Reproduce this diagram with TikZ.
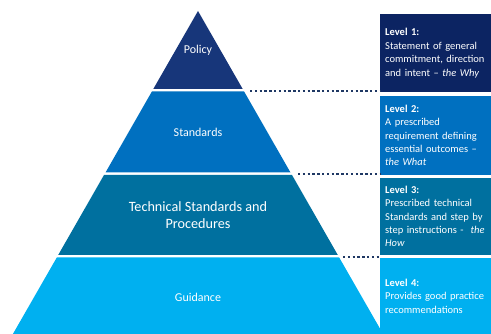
\documentclass[tikz,border=0pt]{standalone}
\usepackage{fontspec}
\setmainfont{Carlito}
\usetikzlibrary{positioning}

\definecolor{policyblue}{HTML}{17367A}
\definecolor{levelnavy}{HTML}{0C2462}
\definecolor{standardblue}{HTML}{0070C0}
\definecolor{technicalblue}{HTML}{00709F}
\definecolor{guidanceblue}{HTML}{00B0F0}
\definecolor{dotnavy}{HTML}{1F3864}

\tikzset{
  tierlabel/.style={text=white, font=\fontsize{12}{17}\selectfont, align=center},
  levelbox/.style={anchor=north west, text=white, font=\fontsize{10.5}{13.4}\selectfont,
    text width=120pt, inner xsep=5pt, inner ysep=0pt, align=left},
  leader/.style={dotnavy, line width=2pt, dash pattern=on 2.4pt off 2.4pt},
}

\begin{document}
\begin{tikzpicture}[x=1pt,y=-1pt]
    \useasboundingbox (0,0) rectangle (491,334);
    % pyramid tiers
    \fill[policyblue] (198,11)--(242.7,89)--(153.3,89)--cycle;
    \fill[standardblue] (151.9,91.5)--(244.1,91.5)--(290.5,172.5)--(105.5,172.5)--cycle;
    \fill[technicalblue] (104,175)--(292,175)--(337.8,255)--(58.2,255)--cycle;
    \fill[guidanceblue] (56.8,257.5)--(339.2,257.5)--(383.1,334)--(12.9,334)--cycle;
    \node[tierlabel] (policy) at (198,50) {Policy};
    \node[tierlabel] (standards) at (198,132) {Standards};
    \node[tierlabel, font=\fontsize{14.2}{17}\selectfont] (technical) at (198,215)
        {Technical Standards and\\Procedures};
    \node[tierlabel] (guidance) at (198,297) {Guidance};
    % level boxes
    \node[levelbox, fill=levelnavy, minimum height=78pt] (lvl1) at (380,14)
        {\textbf{Level 1:}\\Statement of general\\commitment, direction\\and intent -- \textit{the Why}};
    \node[levelbox, fill=standardblue, minimum height=79.5pt] (lvl2) at (380,95.5)
        {\textbf{Level 2:}\\A prescribed\\requirement defining\\essential outcomes --\\\textit{the What}};
    \node[levelbox, fill=technicalblue, minimum height=76.5pt] (lvl3) at (380,178)
        {\textbf{Level 3:}\\Prescribed technical\\Standards and step by\\step instructions -\ \ \textit{the}\\\textit{How}};
    \node[levelbox, fill=guidanceblue, minimum height=76pt] (lvl4) at (380,258)
        {\textbf{Level 4:}\\Provides good practice\\recommendations};
    % dotted leaders
    \coordinate (e1) at (250,91.5);
    \coordinate (e2) at (298,174);
    \coordinate (e3) at (343,257);
    \draw[leader] (e1) -- (e1 -| lvl1.west);
    \draw[leader] (e2) -- (e2 -| lvl2.west);
    \draw[leader] (e3) -- (e3 -| lvl3.west);
\end{tikzpicture}
\end{document}
